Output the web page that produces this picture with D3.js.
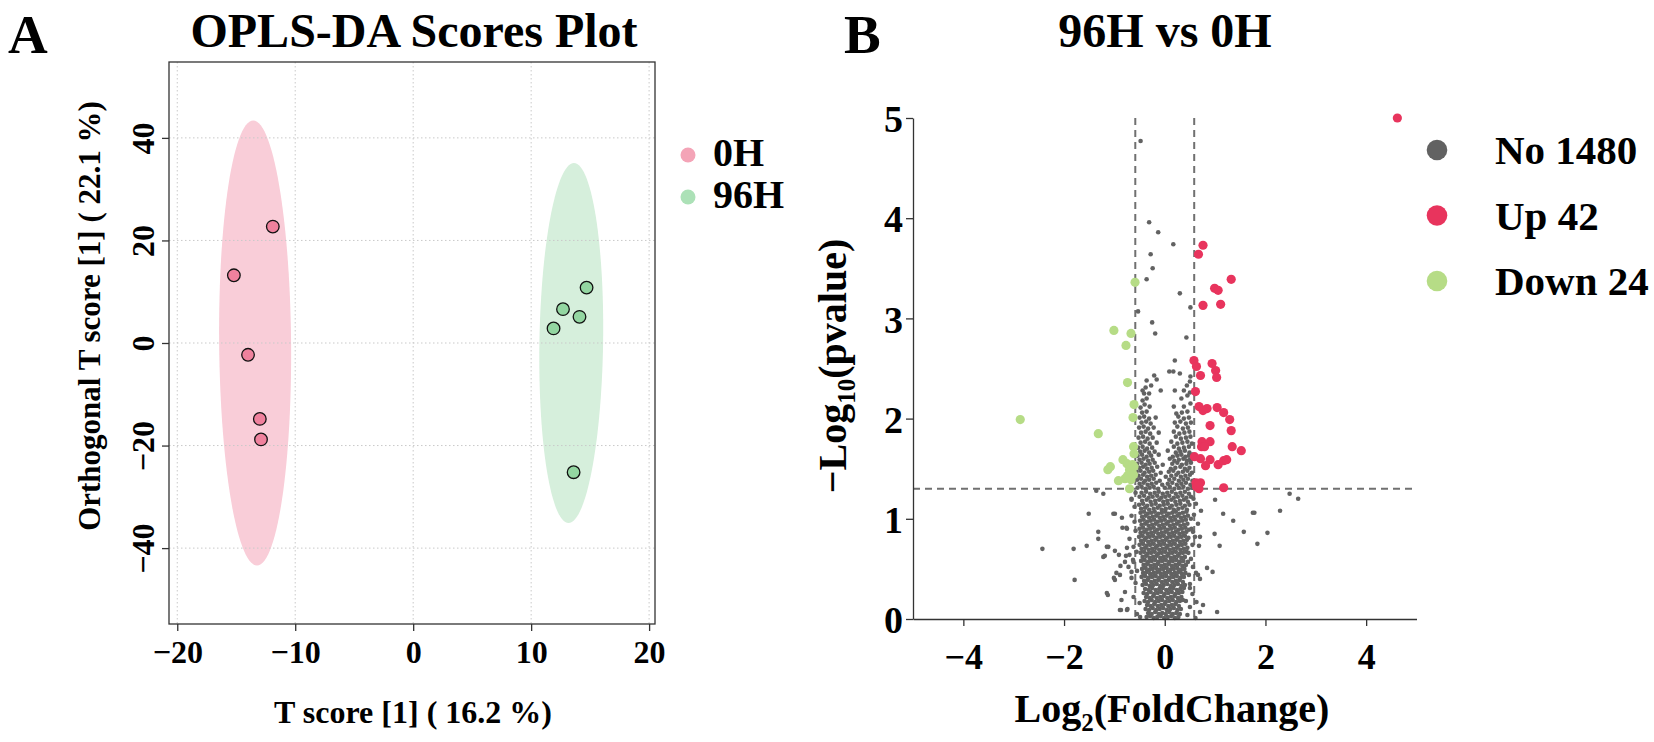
<!DOCTYPE html>
<html>
<head>
<meta charset="utf-8">
<script src="https://cdn.jsdelivr.net/npm/d3@7"></script>
<style>
  body { margin: 0; background: #fff; }
  text { font-family: "Liberation Serif", "Times New Roman", serif; font-weight: bold; fill: #000; }
</style>
</head>
<body>
<svg id="chart" width="1654" height="742"></svg>
<script>
// ---------- panel A : OPLS-DA scores ----------
const groupsA = ["0H", "96H"];
const scores0H = [[-11.9, 22.7], [-15.2, 13.2], [-14.0, -2.3], [-13.0, -14.8], [-12.9, -18.8]];
const scores96H = [[14.7, 10.8], [12.7, 6.6], [14.1, 5.1], [11.9, 2.85], [13.6, -25.2]];
// confidence ellipses: centre, half widths, small tilt of the long axis
const ellipse0H = [-13.4, 0, 3.05, 43.4, -0.16];
const ellipse96H = [13.4, 0, 2.7, 35.1, 0.23];
const xTicksA = [-20, -10, 0, 10, 20];
const yTicksA = [-40, -20, 0, 20, 40];

// ---------- panel B : volcano ----------
const legendB = ["No 1480", "Up 42", "Down 24"];
const xTicksB = [-4, -2, 0, 2, 4];
const yTicksB = [0, 1, 2, 3, 4, 5];
const fcCut = 0.585, pCut = 1.301;

const upPts = [[4.62,5.0],[0.76,3.73],[0.67,3.64],[1.32,3.39],[0.99,3.30],[1.06,3.28],[0.76,3.13],[1.11,3.14],
  [0.58,2.58],[0.63,2.52],[0.71,2.43],[0.94,2.55],[1.01,2.48],[1.03,2.41],[0.61,2.27],[0.68,2.12],[0.76,2.08],
  [0.84,2.10],[1.04,2.11],[1.17,2.06],[1.29,1.99],[0.90,1.93],[1.32,1.88],[0.74,1.77],[0.90,1.77],[0.73,1.72],
  [0.79,1.72],[1.34,1.72],[1.52,1.68],[0.71,1.60],[0.59,1.62],[0.90,1.59],[0.81,1.53],[1.06,1.54],[1.17,1.58],
  [1.23,1.59],[0.71,1.36],[0.62,1.36],[0.63,1.32],[0.68,1.30],[1.17,1.31],[0.66,1.34]];
const downPts = [[-0.59,3.36],[-1.01,2.88],[-0.67,2.85],[-0.77,2.73],[-0.74,2.36],[-0.61,2.14],[-0.63,2.01],
  [-2.87,1.99],[-1.32,1.85],[-0.62,1.72],[-0.61,1.65],[-0.83,1.59],[-0.75,1.55],[-0.64,1.54],[-1.08,1.52],
  [-1.13,1.49],[-0.70,1.49],[-0.61,1.52],[-0.74,1.43],[-0.62,1.44],[-0.67,1.39],[-0.79,1.40],[-0.92,1.38],[-0.70,1.30]];
const noPts = [
  [-0.36,0.02],[-0.29,0.03],[-0.22,0.01],[-0.15,0.02],[-0.08,0.03],[-0.01,0.01],[0.06,0.02],[0.13,0.03],[0.20,0.01],[0.27,0.02],
  [-0.33,0.06],[-0.26,0.05],[-0.19,0.07],[-0.12,0.05],[-0.05,0.06],[0.02,0.05],[0.09,0.07],[0.16,0.05],[0.23,0.06],[0.30,0.05],
  [-0.38,0.10],[-0.31,0.09],[-0.24,0.11],[-0.17,0.09],[-0.10,0.10],[-0.03,0.11],[0.04,0.09],[0.11,0.10],[0.18,0.11],[0.25,0.09],[0.32,0.10],
  [-0.35,0.14],[-0.28,0.13],[-0.21,0.15],[-0.14,0.13],[-0.07,0.14],[0.00,0.15],[0.07,0.13],[0.14,0.14],[0.21,0.15],[0.28,0.13],
  [-0.40,0.18],[-0.33,0.17],[-0.26,0.19],[-0.19,0.17],[-0.12,0.18],[-0.05,0.19],[0.02,0.17],[0.09,0.18],[0.16,0.19],[0.23,0.17],[0.30,0.18],[0.36,0.19],
  [-0.37,0.22],[-0.30,0.21],[-0.23,0.23],[-0.16,0.21],[-0.09,0.22],[-0.02,0.23],[0.05,0.21],[0.12,0.22],[0.19,0.23],[0.26,0.21],[0.33,0.22],
  [-0.42,0.26],[-0.35,0.25],[-0.28,0.27],[-0.21,0.25],[-0.14,0.26],[-0.07,0.27],[0.00,0.25],[0.07,0.26],[0.14,0.27],[0.21,0.25],[0.28,0.26],[0.35,0.27],
  [-0.39,0.30],[-0.32,0.29],[-0.25,0.31],[-0.18,0.29],[-0.11,0.30],[-0.04,0.31],[0.03,0.29],[0.10,0.30],[0.17,0.31],[0.24,0.29],[0.31,0.30],[0.38,0.31],
  [-0.44,0.34],[-0.37,0.35],[-0.30,0.33],[-0.23,0.34],[-0.16,0.35],[-0.09,0.33],[-0.02,0.34],[0.05,0.35],[0.12,0.33],[0.19,0.34],[0.26,0.35],[0.33,0.33],[0.40,0.34],
  [-0.41,0.38],[-0.34,0.39],[-0.27,0.37],[-0.20,0.38],[-0.13,0.39],[-0.06,0.37],[0.01,0.38],[0.08,0.39],[0.15,0.37],[0.22,0.38],[0.29,0.39],[0.36,0.37],
  [-0.46,0.42],[-0.39,0.43],[-0.32,0.41],[-0.25,0.42],[-0.18,0.43],[-0.11,0.41],[-0.04,0.42],[0.03,0.43],[0.10,0.41],[0.17,0.42],[0.24,0.43],[0.31,0.41],[0.38,0.42],
  [-0.43,0.46],[-0.36,0.47],[-0.29,0.45],[-0.22,0.46],[-0.15,0.47],[-0.08,0.45],[-0.01,0.46],[0.06,0.47],[0.13,0.45],[0.20,0.46],[0.27,0.47],[0.34,0.45],[0.41,0.46],
  [-0.45,0.50],[-0.38,0.51],[-0.31,0.49],[-0.24,0.50],[-0.17,0.51],[-0.10,0.49],[-0.03,0.50],[0.04,0.51],[0.11,0.49],[0.18,0.50],[0.25,0.51],[0.32,0.49],[0.39,0.50],
  [-0.42,0.54],[-0.35,0.55],[-0.28,0.53],[-0.21,0.54],[-0.14,0.55],[-0.07,0.53],[0.00,0.54],[0.07,0.55],[0.14,0.53],[0.21,0.54],[0.28,0.55],[0.35,0.53],[0.42,0.54],
  [-0.47,0.58],[-0.40,0.59],[-0.33,0.57],[-0.26,0.58],[-0.19,0.59],[-0.12,0.57],[-0.05,0.58],[0.02,0.59],[0.09,0.57],[0.16,0.58],[0.23,0.59],[0.30,0.57],[0.37,0.58],
  [-0.44,0.62],[-0.37,0.63],[-0.30,0.61],[-0.23,0.62],[-0.16,0.63],[-0.09,0.61],[-0.02,0.62],[0.05,0.63],[0.12,0.61],[0.19,0.62],[0.26,0.63],[0.33,0.61],[0.40,0.62],
  [-0.48,0.66],[-0.41,0.67],[-0.34,0.65],[-0.27,0.66],[-0.20,0.67],[-0.13,0.65],[-0.06,0.66],[0.01,0.67],[0.08,0.65],[0.15,0.66],[0.22,0.67],[0.29,0.65],[0.36,0.66],[0.43,0.67],
  [-0.46,0.70],[-0.39,0.71],[-0.32,0.69],[-0.25,0.70],[-0.18,0.71],[-0.11,0.69],[-0.04,0.70],[0.03,0.71],[0.10,0.69],[0.17,0.70],[0.24,0.71],[0.31,0.69],[0.38,0.70],[0.45,0.71],
  [-0.50,0.74],[-0.43,0.75],[-0.36,0.73],[-0.29,0.74],[-0.22,0.75],[-0.15,0.73],[-0.08,0.74],[-0.01,0.75],[0.06,0.73],[0.13,0.74],[0.20,0.75],[0.27,0.73],[0.34,0.74],[0.41,0.75],
  [-0.47,0.78],[-0.40,0.79],[-0.33,0.77],[-0.26,0.78],[-0.19,0.79],[-0.12,0.77],[-0.05,0.78],[0.02,0.79],[0.09,0.77],[0.16,0.78],[0.23,0.79],[0.30,0.77],[0.37,0.78],[0.44,0.79],
  [-0.51,0.82],[-0.44,0.83],[-0.37,0.81],[-0.30,0.82],[-0.23,0.83],[-0.16,0.81],[-0.09,0.82],[-0.02,0.83],[0.05,0.81],[0.12,0.82],[0.19,0.83],[0.26,0.81],[0.33,0.82],[0.40,0.83],[0.47,0.81],
  [-0.48,0.86],[-0.41,0.87],[-0.34,0.85],[-0.27,0.86],[-0.20,0.87],[-0.13,0.85],[-0.06,0.86],[0.01,0.87],[0.08,0.85],[0.15,0.86],[0.22,0.87],[0.29,0.85],[0.36,0.86],[0.43,0.87],
  [-0.50,0.90],[-0.43,0.91],[-0.36,0.89],[-0.29,0.90],[-0.22,0.91],[-0.15,0.89],[-0.08,0.90],[-0.01,0.91],[0.06,0.89],[0.13,0.90],[0.20,0.91],[0.27,0.89],[0.34,0.90],[0.41,0.91],[0.48,0.89],
  [-0.46,0.94],[-0.39,0.95],[-0.32,0.93],[-0.25,0.94],[-0.18,0.95],[-0.11,0.93],[-0.04,0.94],[0.03,0.95],[0.10,0.93],[0.17,0.94],[0.24,0.95],[0.31,0.93],[0.38,0.94],[0.45,0.95],
  [-0.49,0.98],[-0.42,0.99],[-0.35,0.97],[-0.28,0.98],[-0.21,0.99],[-0.14,0.97],[-0.07,0.98],[0.00,0.99],[0.07,0.97],[0.14,0.98],[0.21,0.99],[0.28,0.97],[0.35,0.98],[0.42,0.99],
  [-0.45,1.02],[-0.38,1.03],[-0.31,1.01],[-0.24,1.02],[-0.17,1.03],[-0.10,1.01],[-0.03,1.02],[0.04,1.03],[0.11,1.01],[0.18,1.02],[0.25,1.03],[0.32,1.01],[0.39,1.02],[0.46,1.03],
  [-0.48,1.06],[-0.41,1.07],[-0.34,1.05],[-0.27,1.06],[-0.20,1.07],[-0.13,1.05],[-0.06,1.06],[0.01,1.07],[0.08,1.05],[0.15,1.06],[0.22,1.07],[0.29,1.05],[0.36,1.06],[0.43,1.07],
  [-0.47,1.10],[-0.39,1.11],[-0.31,1.09],[-0.22,1.10],[-0.14,1.11],[-0.06,1.09],[0.02,1.10],[0.10,1.11],[0.18,1.09],[0.27,1.10],[0.35,1.11],[0.44,1.09],
  [-0.51,1.14],[-0.43,1.15],[-0.35,1.13],[-0.26,1.14],[-0.18,1.15],[-0.10,1.13],[-0.02,1.14],[0.06,1.15],[0.14,1.13],[0.23,1.14],[0.31,1.15],[0.40,1.13],[0.49,1.14],
  [-0.45,1.18],[-0.36,1.19],[-0.28,1.17],[-0.19,1.18],[-0.11,1.19],[-0.03,1.17],[0.05,1.18],[0.13,1.19],[0.21,1.17],[0.30,1.18],[0.38,1.19],[0.46,1.17],
  [-0.50,1.22],[-0.41,1.23],[-0.32,1.21],[-0.24,1.22],[-0.15,1.23],[-0.07,1.21],[0.01,1.22],[0.09,1.23],[0.18,1.21],[0.26,1.22],[0.35,1.23],[0.43,1.21],[0.52,1.22],
  [-0.46,1.26],[-0.37,1.27],[-0.29,1.25],[-0.20,1.26],[-0.12,1.27],[-0.04,1.25],[0.05,1.26],[0.14,1.27],[0.22,1.25],[0.31,1.26],[0.40,1.27],[0.48,1.25],
  [-0.54,1.31],[-0.46,1.32],[-0.38,1.30],[-0.30,1.31],[-0.22,1.32],[-0.13,1.30],[0.00,1.31],[0.10,1.32],[0.19,1.30],[0.28,1.31],[0.37,1.32],[0.46,1.30],[0.55,1.31],
  [-0.50,1.35],[-0.42,1.36],[-0.34,1.34],[-0.26,1.35],[-0.17,1.36],[-0.05,1.34],[0.06,1.35],[0.15,1.36],[0.24,1.34],[0.33,1.35],[0.42,1.36],[0.51,1.34],
  [-0.55,1.39],[-0.47,1.40],[-0.39,1.38],[-0.31,1.39],[-0.22,1.40],[-0.10,1.38],[0.09,1.39],[0.19,1.40],[0.28,1.38],[0.37,1.39],[0.46,1.40],[0.55,1.38],
  [-0.52,1.43],[-0.43,1.44],[-0.35,1.42],[-0.27,1.43],[-0.18,1.44],[0.02,1.42],[0.13,1.43],[0.23,1.44],[0.32,1.42],[0.41,1.43],[0.50,1.44],
  [-0.56,1.47],[-0.48,1.48],[-0.40,1.46],[-0.31,1.47],[-0.23,1.48],[-0.08,1.46],[0.08,1.47],[0.17,1.48],[0.27,1.46],[0.36,1.47],[0.45,1.48],[0.54,1.46],
  [-0.51,1.51],[-0.43,1.52],[-0.35,1.50],[-0.26,1.51],[-0.15,1.52],[0.12,1.50],[0.21,1.51],[0.31,1.52],[0.40,1.50],[0.49,1.51],
  [-0.55,1.55],[-0.46,1.56],[-0.38,1.54],[-0.30,1.55],[-0.20,1.56],[-0.04,1.54],[0.15,1.55],[0.25,1.56],[0.34,1.54],[0.43,1.55],[0.52,1.56],
  [-0.50,1.59],[-0.42,1.60],[-0.33,1.58],[-0.24,1.59],[0.10,1.60],[0.19,1.58],[0.28,1.59],[0.37,1.60],[0.44,1.58],[0.50,1.59],[0.56,1.60],
  [-0.54,1.63],[-0.45,1.64],[-0.36,1.62],[-0.27,1.63],[-0.12,1.64],[0.16,1.62],[0.25,1.63],[0.33,1.64],[0.41,1.62],[0.48,1.63],[0.55,1.64],
  [-0.49,1.67],[-0.40,1.68],[-0.31,1.66],[-0.20,1.67],[0.06,1.68],[0.22,1.66],[0.31,1.67],[0.40,1.68],[0.49,1.66],
  [-0.53,1.71],[-0.44,1.72],[-0.35,1.70],[-0.25,1.71],[0.18,1.72],[0.28,1.70],[0.38,1.71],[0.48,1.72],
  [-0.48,1.76],[-0.39,1.77],[-0.30,1.75],[-0.16,1.76],[0.13,1.77],[0.25,1.75],[0.35,1.76],[0.45,1.77],[0.54,1.75],
  [-0.52,1.81],[-0.43,1.82],[-0.34,1.80],[-0.24,1.81],[0.22,1.82],[0.32,1.80],[0.42,1.81],[0.51,1.82],
  [-0.47,1.86],[-0.38,1.87],[-0.29,1.85],[-0.12,1.86],[0.18,1.87],[0.29,1.85],[0.39,1.86],[0.49,1.87],
  [-0.51,1.91],[-0.42,1.92],[-0.33,1.90],[-0.22,1.91],[0.25,1.92],[0.36,1.90],[0.46,1.91],
  [-0.46,1.96],[-0.37,1.97],[-0.28,1.95],[0.20,1.96],[0.31,1.97],[0.42,1.95],[0.52,1.96],
  [-0.50,2.01],[-0.41,2.02],[-0.31,2.00],[-0.18,2.01],[0.27,2.02],[0.38,2.00],[0.48,2.01],
  [-0.45,2.06],[-0.36,2.07],[0.23,2.05],[0.34,2.06],[0.45,2.07],
  [-0.48,2.11],[-0.40,2.14],[-0.30,2.12],[0.18,2.12],[0.38,2.12],[0.51,2.15],[-0.44,2.18],[-0.36,2.20],[0.33,2.20],[0.45,2.23],
  [-0.41,2.25],[-0.31,2.25],[-0.08,2.28],[0.20,2.28],[0.38,2.28],[0.50,2.26],[-0.44,2.28],[-0.38,2.31],[-0.27,2.33],[0.44,2.33],
  [-0.36,2.38],[-0.16,2.39],[0.50,2.37],[-0.21,2.43],[0.09,2.47],[0.17,2.47],[0.30,2.45],[0.51,2.42],[0.20,2.58],
  [-0.48,4.77],[-0.31,3.96],[-0.13,3.86],[0.17,3.74],[-0.28,3.64],[-0.24,3.50],[-0.36,3.39],[0.30,3.25],[-0.53,3.07],
  [0.51,3.11],[-0.25,2.96],[-0.19,2.85],[0.43,2.81],
  [-1.36,1.28],[-1.22,1.25],[-1.51,1.05],[-0.99,1.05],[2.48,1.25],[2.65,1.20],[2.29,1.08],[1.75,1.06],[1.78,1.06],
  [1.36,0.98],[1.16,1.05],[1.57,0.87],[2.04,0.86],[1.84,0.75],[0.99,0.85],[1.09,0.73],[0.84,0.51],[0.95,0.47],[1.04,0.07],
  [-2.43,0.70],[-1.81,0.70],[-1.55,0.73],[-1.79,0.39],[-1.32,0.87],[-1.32,0.80],[-1.12,0.72],[-1.19,0.63],[-0.99,0.68],
  [-1.13,0.24],[-0.88,0.53],[-0.96,0.46],[-0.99,0.39],[-0.84,0.91],[-0.75,0.90],[-0.77,0.63],[-0.79,0.57],[-0.87,0.09],[-0.74,0.10],
  [1.00,1.19],[0.68,0.73],[0.70,0.82],[0.56,0.87],[0.66,0.44],[0.63,0.17],[0.76,0.14],[0.61,0.01],[0.50,0.31],[0.46,0.57],[0.70,0.07],
  [-1.02,1.05],[-1.22,0.62],[-1.15,0.72],[-0.91,0.64],[-1.01,0.41],[-0.89,0.44],[-1.15,0.26],[-0.75,0.71],[-0.86,0.19],
  [-0.79,0.27],[-0.89,0.09],[-0.75,0.09],[-0.49,0.02],[-0.66,0.47],[-0.63,0.59],[-0.76,0.91],[-0.66,1.19],[-0.85,1.01],
  [-0.58,0.36],[-0.66,0.41],[-0.55,0.48],[-0.72,0.52],[-0.62,0.57],[-0.70,0.64],[-0.56,0.67],[0.50,0.35],[0.48,0.44],
  [0.56,0.52],[0.52,0.60],[0.62,0.46],[0.70,0.40],[0.47,0.66],[-0.62,0.72],[-0.70,0.80],[-0.58,0.88],[-0.60,0.97],
  [-0.66,1.03],[0.55,0.74],[0.60,0.82],[0.53,0.90],[0.66,0.95],[0.58,1.04],[0.72,1.08],[0.52,1.00],[-0.60,1.12],
  [0.57,1.20],[0.62,1.15],[-0.58,1.26],[-0.66,1.20],[-0.55,0.05],[-0.50,0.16],[0.45,0.04],[0.50,0.12],[0.42,0.18],
  [-0.62,0.22],[0.55,0.25]
];

const svg = d3.select("#chart");
const minus = s => String(s).replace("-", "\u2212");

// ===== panel A =====
const xA = d3.scaleLinear().domain([-20.7, 20.5]).range([169, 655]);
const yA = d3.scaleLinear().domain([-54.8, 54.8]).range([624, 62]);
const colA = { fill: ["#ef819d", "#93d6a1"], ell: ["#f9cdd8", "#d6efdc"], leg: ["#f4a4b7", "#ace1b7"] };
const gA = svg.append("g");

function ellipsePath(e) {
  const [cx, cy, rx, ry, k] = e;
  const pts = d3.range(0, 361, 3).map(a => {
    const t = a * Math.PI / 180;
    return [xA(cx + rx * Math.cos(t) + k * Math.sin(t)), yA(cy + ry * Math.sin(t))];
  });
  return d3.line()(pts) + "Z";
}
gA.selectAll("path.ell").data([ellipse0H, ellipse96H]).join("path")
  .attr("d", ellipsePath).attr("fill", (d, i) => colA.ell[i]);

// dotted grid
gA.selectAll("line.vg").data(xTicksA).join("line")
  .attr("x1", d => xA(d)).attr("x2", d => xA(d)).attr("y1", 62).attr("y2", 624)
  .attr("stroke", "#c9c9c9").attr("stroke-width", 1).attr("stroke-dasharray", "1.5,2.5");
gA.selectAll("line.hg").data(yTicksA).join("line")
  .attr("y1", d => yA(d)).attr("y2", d => yA(d)).attr("x1", 169).attr("x2", 655)
  .attr("stroke", "#c9c9c9").attr("stroke-width", 1).attr("stroke-dasharray", "1.5,2.5");

[scores0H, scores96H].forEach((s, i) => {
  gA.selectAll("circle.g" + i).data(s).join("circle")
    .attr("cx", d => xA(d[0])).attr("cy", d => yA(d[1])).attr("r", 6.3)
    .attr("fill", colA.fill[i]).attr("stroke", "#111").attr("stroke-width", 1.3);
});

gA.append("rect").attr("x", 169).attr("y", 62).attr("width", 486).attr("height", 562)
  .attr("fill", "none").attr("stroke", "#333").attr("stroke-width", 1.3);

const axBA = gA.append("g").attr("transform", "translate(0,624)")
  .call(d3.axisBottom(xA).tickValues(xTicksA).tickSize(7).tickFormat(minus));
axBA.select(".domain").remove();
axBA.selectAll("line").attr("stroke", "#333").attr("stroke-width", 1.3);
axBA.selectAll("text").attr("y", 39).attr("dy", 0).style("font-size", "32px");

const axLA = gA.append("g").attr("transform", "translate(169,0)")
  .call(d3.axisLeft(yA).tickValues(yTicksA).tickSize(7).tickFormat(minus));
axLA.select(".domain").remove();
axLA.selectAll("line").attr("stroke", "#333").attr("stroke-width", 1.3);
axLA.selectAll("text").attr("x", 0).attr("dy", 0).attr("text-anchor", "middle")
  .attr("transform", "translate(-15,0) rotate(-90)").style("font-size", "32px");

gA.append("text").attr("x", 8).attr("y", 53).style("font-size", "55px").text("A");
gA.append("text").attr("x", 414).attr("y", 47).attr("text-anchor", "middle")
  .style("font-size", "48px").text("OPLS-DA Scores Plot");
gA.append("text").attr("x", 413).attr("y", 723).attr("text-anchor", "middle")
  .style("font-size", "32px").text("T score [1] ( 16.2 %)");
gA.append("text").attr("transform", "translate(100,316) rotate(-90)").attr("text-anchor", "middle")
  .style("font-size", "31px").text("Orthogonal T score [1] ( 22.1 %)");

const legA = gA.selectAll("g.leg").data(groupsA).join("g")
  .attr("transform", (d, i) => `translate(688,${155 + i * 42})`);
legA.append("circle").attr("r", 7.5).attr("fill", (d, i) => colA.leg[i]);
legA.append("text").attr("x", 25).attr("y", 11).style("font-size", "40px").text(d => d);

// ===== panel B =====
const xB = d3.scaleLinear().domain([-5, 5]).range([913, 1416.5]);
const yB = d3.scaleLinear().domain([0, 5]).range([619, 118]);
const colB = ["#626262", "#e8345d", "#b6dc86"];
const gB = svg.append("g");

const dash = { stroke: "#707070", w: 2, d: "7,5" };
gB.selectAll("line.vc").data([-fcCut, fcCut]).join("line")
  .attr("x1", d => xB(d)).attr("x2", d => xB(d)).attr("y1", yB(5)).attr("y2", yB(0))
  .attr("stroke", dash.stroke).attr("stroke-width", dash.w).attr("stroke-dasharray", dash.d);
gB.append("line").attr("x1", xB(-5)).attr("x2", xB(5)).attr("y1", yB(pCut)).attr("y2", yB(pCut))
  .attr("stroke", dash.stroke).attr("stroke-width", dash.w).attr("stroke-dasharray", dash.d);

gB.append("g").selectAll("circle").data(noPts).join("circle")
  .attr("cx", d => xB(d[0])).attr("cy", d => yB(d[1])).attr("r", 2.3).attr("fill", colB[0]);
gB.append("g").selectAll("circle").data(upPts).join("circle")
  .attr("cx", d => xB(d[0])).attr("cy", d => yB(d[1])).attr("r", 4.6).attr("fill", colB[1]);
gB.append("g").selectAll("circle").data(downPts).join("circle")
  .attr("cx", d => xB(d[0])).attr("cy", d => yB(d[1])).attr("r", 4.6).attr("fill", colB[2]);

const axBB = gB.append("g").attr("transform", "translate(0,619)")
  .call(d3.axisBottom(xB).tickValues(xTicksB).tickSize(7).tickSizeOuter(0).tickFormat(minus));
axBB.selectAll("line,path").attr("stroke", "#333").attr("stroke-width", 1.3);
axBB.selectAll("text").attr("y", 50).attr("dy", 0).style("font-size", "36px");

const axLB = gB.append("g").attr("transform", "translate(913,0)")
  .call(d3.axisLeft(yB).tickValues(yTicksB).tickSize(7).tickSizeOuter(0).tickFormat(d3.format("d")));
axLB.selectAll("line,path").attr("stroke", "#333").attr("stroke-width", 1.3);
axLB.selectAll("text").attr("x", -10).attr("dy", "0.36em").style("font-size", "38px");

gB.append("text").attr("x", 844).attr("y", 53).style("font-size", "55px").text("B");
gB.append("text").attr("x", 1165).attr("y", 47).attr("text-anchor", "middle")
  .style("font-size", "48px").text("96H vs 0H");

const xt = gB.append("text").attr("x", 1172).attr("y", 722).attr("text-anchor", "middle").style("font-size", "40px");
xt.append("tspan").text("Log");
xt.append("tspan").attr("dy", 9).style("font-size", "25px").text("2");
xt.append("tspan").attr("dy", -9).text("(FoldChange)");

const yt = gB.append("text").attr("transform", "translate(846,366) rotate(-90)").attr("text-anchor", "middle").style("font-size", "40px");
yt.append("tspan").text("\u2212Log");
yt.append("tspan").attr("dy", 9).style("font-size", "25px").text("10");
yt.append("tspan").attr("dy", -9).text("(pvalue)");

const legB = gB.selectAll("g.leg").data(legendB).join("g")
  .attr("transform", (d, i) => `translate(1437,${150 + i * 65.5})`);
legB.append("circle").attr("r", 10.3).attr("fill", (d, i) => colB[i]);
legB.append("text").attr("x", 58).attr("y", 14).style("font-size", "41px").text(d => d);
</script>
</body>
</html>
